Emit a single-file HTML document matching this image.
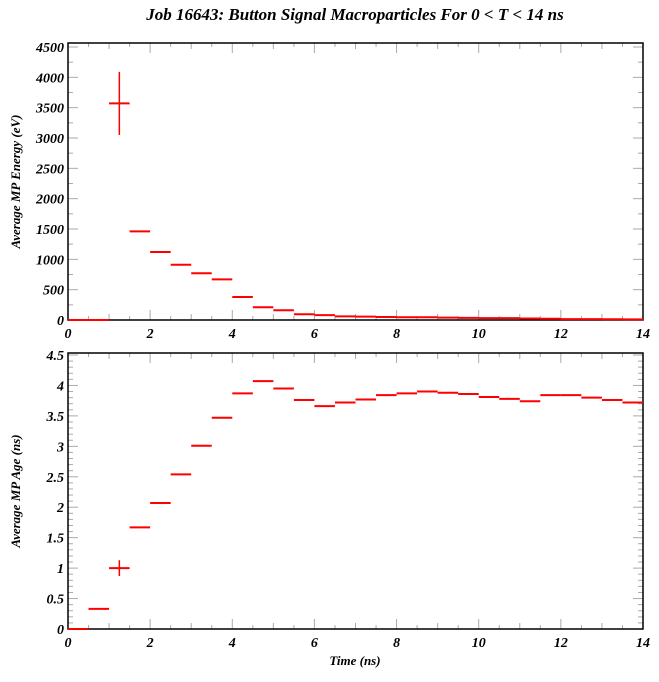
<!DOCTYPE html>
<html><head><meta charset="utf-8"><style>
body{margin:0;background:#fff;}
svg text{font-family:"Liberation Serif",serif;font-weight:bold;font-style:italic;}
</style></head><body>
<svg id="c" width="659" height="677" xmlns="http://www.w3.org/2000/svg">
<text x="355" y="20" font-size="17" text-anchor="middle">Job 16643: Button Signal Macroparticles For 0 &lt; T &lt; 14 ns</text>
</svg>
<script>
const binEdgesStart = [0,0.5,1,1.5,2,2.5,3,3.5,4,4.5,5,5.5,6,6.5,7,7.5,8,8.5,9,9.5,10,10.5,11,11.5,12,12.5,13,13.5];
const energyValues = [0,0,3570,1460,1120,910,770,670,380,210,160,95,80,60,55,50,45,45,40,35,30,30,25,20,15,15,12,10];
const energyErrors = [0,0,520,0,0,0,0,0,0,0,0,0,0,0,0,0,0,0,0,0,0,0,0,0,0,0,0,0];
const ageValues = [0,0.33,1.0,1.67,2.07,2.54,3.01,3.47,3.87,4.07,3.95,3.76,3.66,3.72,3.77,3.84,3.87,3.90,3.88,3.86,3.81,3.78,3.74,3.84,3.84,3.80,3.76,3.72];
const ageErrors = [0,0,0.13,0,0,0,0,0,0,0,0,0,0,0,0,0,0,0,0,0,0,0,0,0,0,0,0,0];
const xTicks = [0,2,4,6,8,10,12,14];
const energyTicks = [0,500,1000,1500,2000,2500,3000,3500,4000,4500];
const ageTicks = [0,0.5,1,1.5,2,2.5,3,3.5,4,4.5];
const energyTickLabels = energyTicks.map(String);
const ageTickLabels = ageTicks.map(String);

const svg = document.getElementById('c');
const NS = 'http://www.w3.org/2000/svg';
function mk(tag, attrs, parent){const e=document.createElementNS(NS,tag);for(const k in attrs)e.setAttribute(k,attrs[k]);(parent||svg).appendChild(e);return e;}
const X0=68, X1=643, XMAX=14;
const xs = v => X0 + v/XMAX*(X1-X0);

function panel(name, top, y0, yTop, ymax, ticks, labels, minorStep, vals, errs, ytitle, showXTitle){
  const ys = v => y0 - v/ymax*(y0-yTop);
  const g = mk('g',{});
  
  
  // ticks x
  for(let t=0;t<=XMAX;t+=0.5){
    const len = (t%2===0)?10:(t%1===0?6:4);
    mk('line',{x1:xs(t),x2:xs(t),y1:top,y2:top+len,stroke:'#aaa','stroke-width':1},g);
    mk('line',{x1:xs(t),x2:xs(t),y1:y0,y2:y0-len,stroke:'#aaa','stroke-width':1},g);
  }
  for(let v=0; v<=ymax+1e-9; v+=minorStep){
    const major = ticks.some(t=>Math.abs(t-v)<1e-6);
    const len = major?10:5;
    mk('line',{x1:X0,x2:X0+len,y1:ys(v),y2:ys(v),stroke:'#aaa','stroke-width':1},g);
    mk('line',{x1:X1,x2:X1-len,y1:ys(v),y2:ys(v),stroke:'#aaa','stroke-width':1},g);
  }
  const fr = mk('rect',{x:X0,y:top,width:X1-X0,height:y0-top,fill:'none',stroke:'#000','stroke-width':1.5},g);
  
  
  ticks.forEach((t,i)=>{
    const tx = mk('text',{x:X0-4,y:ys(t)+5,'font-size':14,'text-anchor':'end'},g);
    tx.textContent = labels[i];
    
    
  });
  xTicks.forEach(t=>{
    const tx = mk('text',{x:xs(t),y:y0+18,'font-size':14,'text-anchor':'middle'},g);
    tx.textContent = String(t);
    
    
  });
  const yt = mk('text',{x:0,y:0,'font-size':13,'text-anchor':'middle',transform:`translate(20,${(top+y0)/2}) rotate(-90)`},g);
  yt.textContent = ytitle;
  
  
  if(showXTitle){
    const xt = mk('text',{x:355,y:y0+36,'font-size':13,'text-anchor':'middle'},g);
    xt.textContent = 'Time (ns)';
    
    
  }
  vals.forEach((v,i)=>{
    const a=binEdgesStart[i], b=a+0.5, c=a+0.25;
    const l = mk('line',{x1:xs(a),x2:xs(b),y1:ys(v),y2:ys(v),stroke:'#f00','stroke-width':2},g);
    
    
    if(errs[i]>0){
      const e = mk('line',{x1:xs(c),x2:xs(c),y1:ys(v-errs[i]),y2:ys(v+errs[i]),stroke:'#f00','stroke-width':1.5},g);
      
      
    }
  });
}
panel('energy-panel', 43, 320, 47, 4500, energyTicks, energyTickLabels, 250, energyValues, energyErrors, 'Average MP Energy (eV)', false);
panel('age-panel', 353, 629, 355, 4.5, ageTicks, ageTickLabels, 0.1, ageValues, ageErrors, 'Average MP Age (ns)', true);
</script>
</body></html>
